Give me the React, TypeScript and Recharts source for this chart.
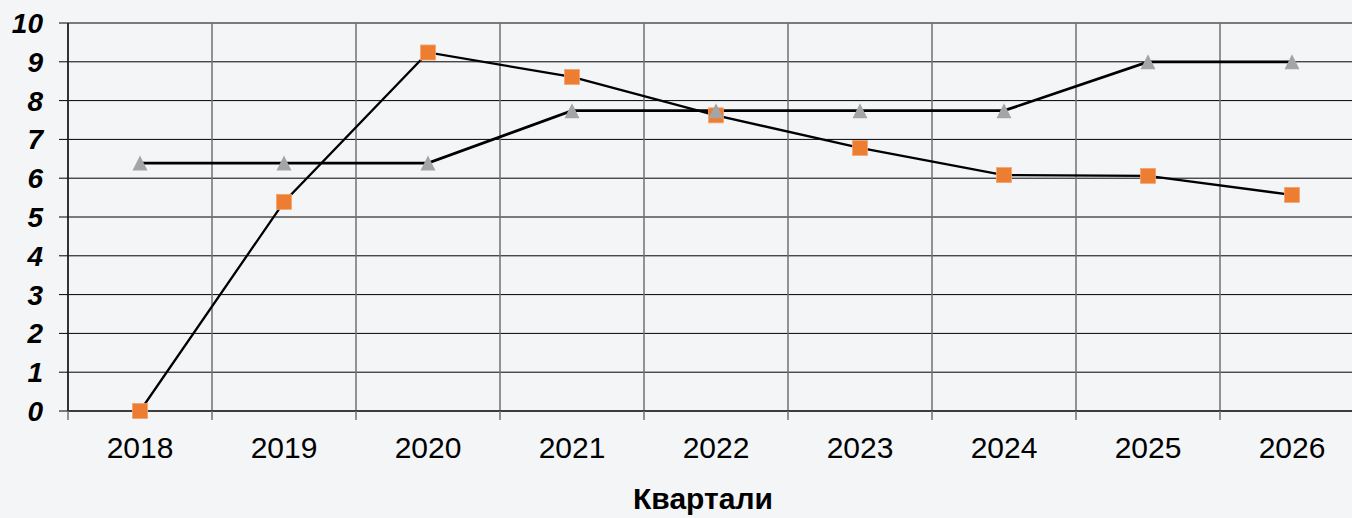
import { CartesianGrid, Line, LineChart, XAxis, YAxis } from 'recharts'

const years = ['2018', '2019', '2020', '2021', '2022', '2023', '2024', '2025', '2026']
const squareSeries = [0, 5.39, 9.24, 8.61, 7.62, 6.78, 6.08, 6.06, 5.57]
const triangleSeries = [6.39, 6.39, 6.39, 7.74, 7.74, 7.74, 7.74, 9.0, 9.0]
const yTicks = [0, 1, 2, 3, 4, 5, 6, 7, 8, 9, 10]

const data = years.map((year, i) => ({
  year,
  squares: squareSeries[i],
  triangles: triangleSeries[i],
}))

const FONT = '"Liberation Sans", Arial, sans-serif'
const CHART_W = 1380
const CHART_H = 518
const MARGIN = { top: 23, right: 16, bottom: 0, left: 0 }
const Y_AXIS_W = 68
const X_AXIS_H = 107
const PLOT_W = CHART_W - MARGIN.left - MARGIN.right - Y_AXIS_W
const BAND = PLOT_W / years.length
const X_TICK_SIZE = 9
const X_TICK_MARGIN = 17

function SquareDot(props: any) {
  const { cx, cy } = props
  if (cx == null || cy == null) return null
  return <rect x={cx - 7.5} y={cy - 7.5} width={15} height={15} fill="#ED7D31" stroke="#F3A56F" strokeWidth={0.8} />
}

function TriangleDot(props: any) {
  const { cx, cy } = props
  if (cx == null || cy == null) return null
  const pts = `${cx},${cy - 7.5} ${cx + 7.5},${cy + 7.5} ${cx - 7.5},${cy + 7.5}`
  return <polygon points={pts} fill="#A5A5A5" />
}

function YearTick(props: any) {
  const { x, y, payload, index } = props
  const axisY = y - X_TICK_MARGIN - X_TICK_SIZE
  return (
    <g>
      <line x1={x - BAND / 2} x2={x - BAND / 2} y1={axisY} y2={axisY + X_TICK_SIZE} stroke="#707070" strokeWidth={1.5} />
      {index === years.length - 1 && (
        <line x1={x + BAND / 2} x2={x + BAND / 2} y1={axisY} y2={axisY + X_TICK_SIZE} stroke="#707070" strokeWidth={1.5} />
      )}
      <text x={x} y={y} dy="0.71em" textAnchor="middle" fill="#000" fontSize={30} fontFamily={FONT}>
        {payload.value}
      </text>
    </g>
  )
}

export default function App() {
  return (
    <div
      style={{
        position: 'absolute',
        left: 0,
        top: 0,
        width: 1352,
        height: 518,
        overflow: 'hidden',
        background: '#F4F5F7',
        fontFamily: FONT,
      }}
    >
      <LineChart width={CHART_W} height={CHART_H} data={data} margin={MARGIN}>
        <CartesianGrid horizontal vertical={false} stroke="#000" strokeWidth={1} />
        <CartesianGrid
          horizontal={false}
          vertical
          stroke="#707070"
          strokeWidth={1.5}
          verticalCoordinatesGenerator={({ offset }: any) =>
            Array.from({ length: years.length + 1 }, (_, i) => offset.left + (i * offset.width) / years.length)
          }
        />
        <XAxis
          dataKey="year"
          height={X_AXIS_H}
          padding={{ left: BAND / 2, right: BAND / 2 }}
          axisLine={{ stroke: '#000', strokeWidth: 1 }}
          tickLine={false}
          tickSize={X_TICK_SIZE}
          tickMargin={X_TICK_MARGIN}
          interval={0}
          tick={<YearTick />}
        />
        <YAxis
          width={Y_AXIS_W}
          domain={[0, 10]}
          ticks={yTicks}
          interval={0}
          axisLine={{ stroke: '#333', strokeWidth: 2 }}
          tickLine={{ stroke: '#000', strokeWidth: 1 }}
          tickSize={9}
          tickMargin={16}
          tick={{ fill: '#000', fontSize: 28, fontWeight: 700, fontStyle: 'italic', fontFamily: FONT }}
        />
        <Line
          type="linear"
          dataKey="squares"
          stroke="#000"
          strokeWidth={2.3}
          dot={<SquareDot />}
          activeDot={false}
          isAnimationActive={false}
        />
        <Line
          type="linear"
          dataKey="triangles"
          stroke="#000"
          strokeWidth={2.8}
          dot={<TriangleDot />}
          activeDot={false}
          isAnimationActive={false}
        />
      </LineChart>
      <div
        style={{
          position: 'absolute',
          left: 503,
          width: 400,
          top: 483,
          textAlign: 'center',
          fontSize: 30,
          fontWeight: 700,
          color: '#000',
          lineHeight: '32px',
        }}
      >
        Квартали
      </div>
    </div>
  )
}
